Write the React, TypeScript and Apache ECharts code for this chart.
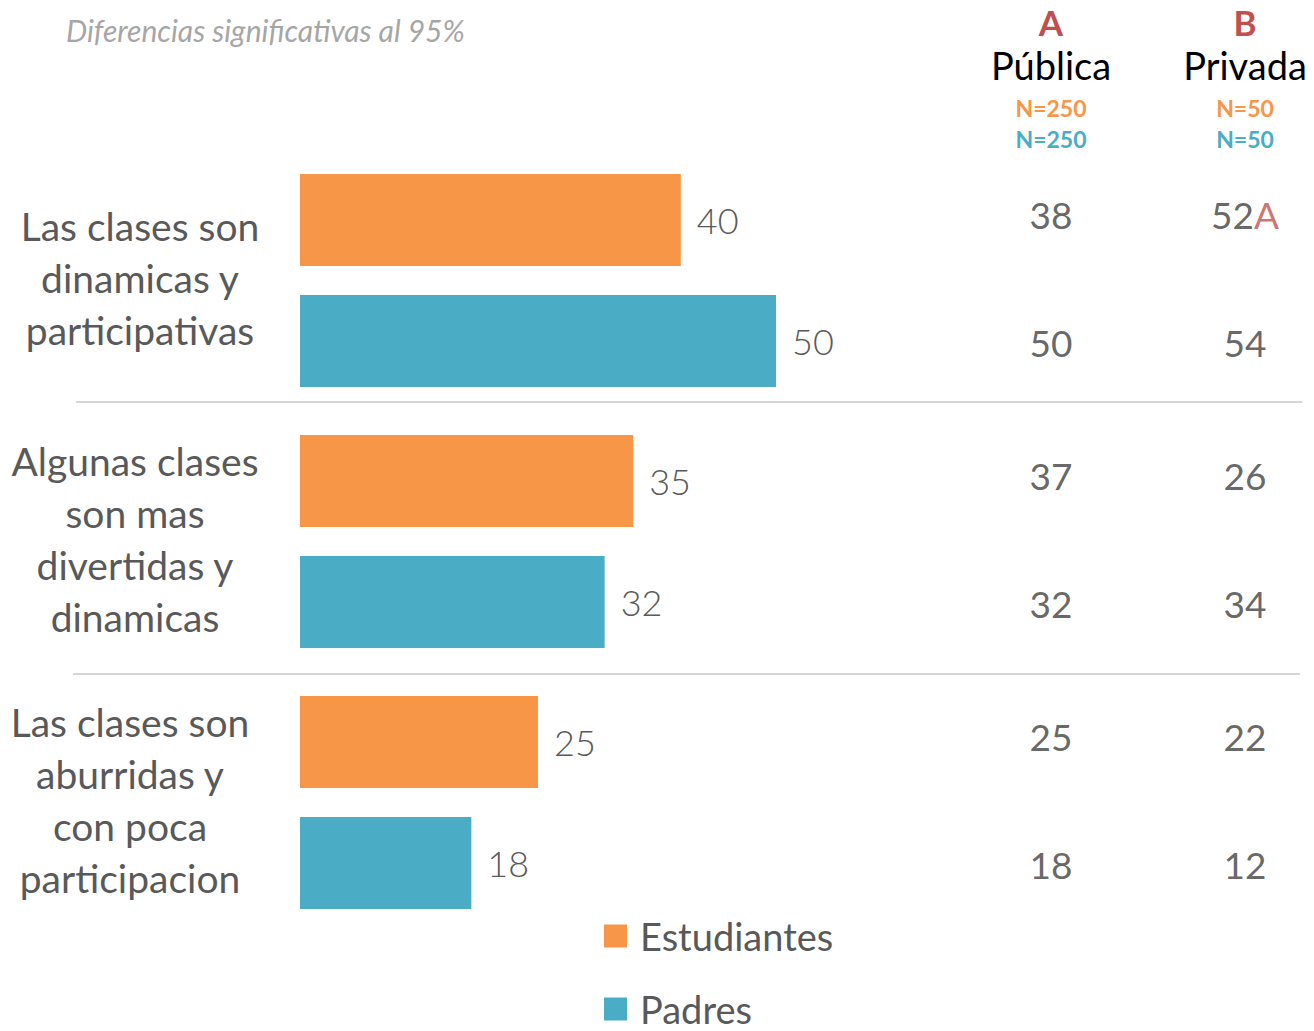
import React, { useEffect, useRef } from "react";
import * as echarts from "echarts";

const categories = [
  "Las clases son\ndinamicas y\nparticipativas",
  "Algunas clases\nson mas\ndivertidas y\ndinamicas",
  "Las clases son\naburridas y\ncon poca\nparticipacion",
];
const estudiantes = [40, 35, 25];
const padres = [50, 32, 18];

const columns = ["Pública", "Privada"];
const columnLetters = ["A", "B"];
const nEstudiantes = ["N=250", "N=50"];
const nPadres = ["N=250", "N=50"];

const publicaEst = [38, 37, 25];
const publicaPad = [50, 32, 18];
const privadaEst = [52, 26, 22];
const privadaPad = [54, 34, 12];
const sigPublicaEst = ["", "", ""];
const sigPublicaPad = ["", "", ""];
const sigPrivadaEst = ["A", "", ""];
const sigPrivadaPad = ["", "", ""];

const ORANGE = "#F79646";
const BLUE = "#4BACC6";
const RED = "#C0504D";
const FONT = "Lato, 'Open Sans', sans-serif";

export default function App() {
  const ref = useRef<HTMLDivElement>(null);

  useEffect(() => {
    if (!ref.current) return;
    const chart = echarts.init(ref.current, undefined, { renderer: "svg" });

    const tableData = (pub: number[], priv: number[], sigPub: string[], sigPriv: string[]) => {
      const out: any[] = [];
      pub.forEach((v, i) => out.push({ value: [0, i], v, sig: sigPub[i] }));
      priv.forEach((v, i) => out.push({ value: [1, i], v, sig: sigPriv[i] }));
      return out;
    };

    const tableLabel = (offsetY: number) => ({
      show: true,
      position: "inside",
      offset: [0, offsetY],
      formatter: (p: any) =>
        p.data.sig ? `{v|${p.data.v}}{s|${p.data.sig}}` : `{v|${p.data.v}}`,
      rich: {
        v: { fontSize: 37, color: "#404040", fontFamily: FONT },
        s: { fontSize: 37, color: RED, fontFamily: FONT },
      },
    });

    const catRich = (padRight: number) => ({
      fontSize: 39,
      lineHeight: 52,
      color: "#595959",
      fontFamily: FONT,
      padding: [0, padRight, 0, 0],
    });

    const legendBase = {
      orient: "vertical",
      left: 604,
      padding: 0,
      itemWidth: 23,
      itemHeight: 23,
      icon: "rect",
      textStyle: {
        fontSize: 38,
        color: "#595959",
        lineHeight: 36,
        fontFamily: FONT,
        padding: [0, 0, 0, 8],
      },
    };

    chart.setOption({
      animation: false,
      textStyle: { fontFamily: FONT },
      title: {
        text: "Diferencias significativas al 95%",
        left: 61,
        top: 10,
        textStyle: {
          fontSize: 30,
          fontStyle: "italic",
          fontWeight: "normal",
          color: "#A6A6A6",
          fontFamily: FONT,
        },
      },
      legend: [
        { ...legendBase, data: ["Estudiantes"], top: 917 },
        { ...legendBase, data: ["Padres"], top: 990 },
      ],
      grid: [
        { left: 300, right: 62, top: 150, bottom: 98 },
        { left: 1051, right: 69, top: 150, bottom: 98 },
      ],
      xAxis: [
        {
          type: "value",
          gridIndex: 0,
          min: 0,
          max: 100,
          show: false,
          splitLine: { show: false },
        },
        {
          type: "category",
          gridIndex: 1,
          data: columns,
          boundaryGap: false,
          position: "top",
          axisLine: { show: false },
          axisTick: { show: false },
          axisLabel: {
            margin: -3,
            interval: 0,
            formatter: (val: string, idx: number) =>
              `{l|${columnLetters[idx]}}\n{n|${val}}\n{o|${nEstudiantes[idx]}}\n{b|${nPadres[idx]}}`,
            rich: {
              l: { fontSize: 35, fontWeight: "bold", color: RED, lineHeight: 34, align: "center", fontFamily: FONT },
              n: { fontSize: 38, color: "#000000", lineHeight: 52, align: "center", fontFamily: FONT },
              o: { fontSize: 23, fontWeight: "bold", color: ORANGE, lineHeight: 34, align: "center", fontFamily: FONT },
              b: { fontSize: 23, fontWeight: "bold", color: BLUE, lineHeight: 28, align: "center", fontFamily: FONT },
            },
          },
        },
      ],
      yAxis: [
        {
          type: "category",
          gridIndex: 0,
          data: categories,
          inverse: true,
          axisLine: { show: false },
          axisTick: { show: false },
          axisLabel: {
            margin: 160,
            align: "center",
            padding: [0, 0, 6, 0],
            formatter: (val: string, idx: number) =>
              val
                .split("\n")
                .map((l) => `{c${idx}|${l}}`)
                .join("\n"),
            rich: {
              c0: catRich(0),
              c1: catRich(10),
              c2: catRich(20),
            },
          },
        },
        {
          type: "category",
          gridIndex: 1,
          data: categories,
          inverse: true,
          show: false,
        },
      ],
      series: [
        {
          name: "Estudiantes",
          type: "bar",
          xAxisIndex: 0,
          yAxisIndex: 0,
          data: estudiantes,
          barWidth: 92,
          barGap: "31.5%",
          itemStyle: { color: ORANGE },
          label: {
            show: true,
            position: "right",
            distance: 16,
            fontSize: 36,
            fontWeight: 300,
            color: "#595959",
            fontFamily: FONT,
          },
        },
        {
          name: "Padres",
          type: "bar",
          xAxisIndex: 0,
          yAxisIndex: 0,
          data: padres,
          barWidth: 92,
          barGap: "31.5%",
          itemStyle: { color: BLUE },
          label: {
            show: true,
            position: "right",
            distance: 16,
            fontSize: 36,
            fontWeight: 300,
            color: "#595959",
            fontFamily: FONT,
          },
        },
        {
          name: "tablaEst",
          type: "scatter",
          xAxisIndex: 1,
          yAxisIndex: 1,
          symbolSize: 0,
          data: tableData(publicaEst, privadaEst, sigPublicaEst, sigPrivadaEst),
          label: tableLabel(-66),
        },
        {
          name: "tablaPad",
          type: "scatter",
          xAxisIndex: 1,
          yAxisIndex: 1,
          symbolSize: 0,
          data: tableData(publicaPad, privadaPad, sigPublicaPad, sigPrivadaPad),
          label: tableLabel(62),
        },
      ],
      graphic: [
        {
          type: "line",
          shape: { x1: 76, y1: 402, x2: 1302, y2: 402 },
          style: { stroke: "#C9C9C9", lineWidth: 1.5 },
        },
        {
          type: "line",
          shape: { x1: 73, y1: 674, x2: 1300, y2: 674 },
          style: { stroke: "#C9C9C9", lineWidth: 1.5 },
        },
      ],
    });

    return () => chart.dispose();
  }, []);

  return <div ref={ref} style={{ width: 1314, height: 1031, position: "absolute", left: 0, top: 0 }} />;
}
